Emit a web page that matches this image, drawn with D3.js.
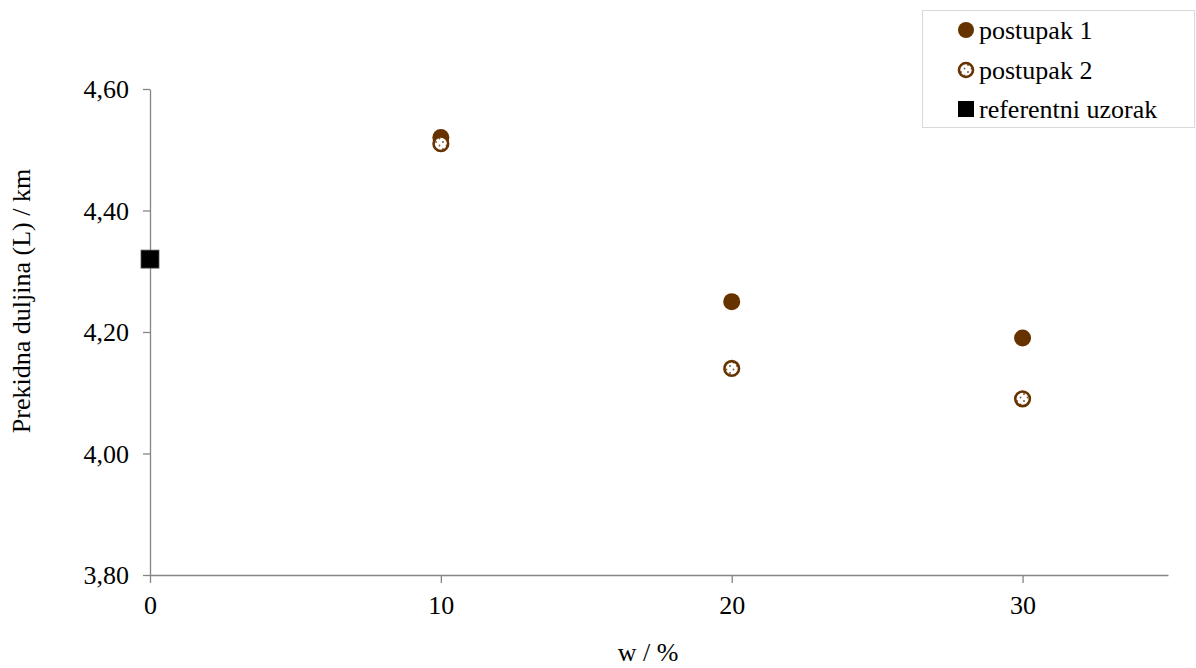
<!DOCTYPE html>
<html><head><meta charset="utf-8">
<script src="https://cdn.jsdelivr.net/npm/d3@7"></script>
<style>body{margin:0;background:#fff}svg{display:block}text{font-family:"Liberation Serif","Times New Roman",serif}</style>
</head><body><svg id="c" width="1196" height="668"></svg>
<script>
const xTicks = [0, 10, 20, 30];
const yTicks = [3.8, 4.0, 4.2, 4.4, 4.6];
const p1X = [10, 20, 30];
const p1Y = [4.52, 4.25, 4.19];
const p2X = [10, 20, 30];
const p2Y = [4.51, 4.14, 4.09];
const refX = [0];
const refY = [4.32];
const legendLabels = ["postupak 1", "postupak 2", "referentni uzorak"];

const svg = d3.select("#c");
const brown = "#663300";
const FS = "26px";
const x = d3.scaleLinear().domain([0, 35]).range([150, 1168]);
const y = d3.scaleLinear().domain([3.8, 4.6]).range([575, 89]);
const fmt = d => d.toFixed(2).replace(".", ",");

const defs = svg.append("defs");
const pat = defs.append("pattern").attr("id","dots").attr("patternUnits","userSpaceOnUse").attr("width",7).attr("height",7);
pat.append("rect").attr("width",7).attr("height",7).attr("fill","#fff");
pat.append("circle").attr("cx",2).attr("cy",2).attr("r",1).attr("fill","#8a5a3a");
pat.append("circle").attr("cx",5.5).attr("cy",5.5).attr("r",0.9).attr("fill","#8a5a3a");

const axisColor = "#858585";
const gy = svg.append("g").attr("transform","translate(150,0)")
  .call(d3.axisLeft(y).tickValues(yTicks).tickFormat(fmt).tickSize(7).tickSizeOuter(0));
const gx = svg.append("g").attr("transform","translate(0,575)")
  .call(d3.axisBottom(x).tickValues(xTicks).tickFormat(d3.format("d")).tickSize(8).tickSizeOuter(0));
[gx, gy].forEach(g => {
  g.select(".domain").attr("stroke", axisColor).attr("stroke-width",1.3);
  g.selectAll(".tick line").attr("stroke", axisColor).attr("stroke-width",1.3);
  g.selectAll(".tick text").attr("fill","#000").style("font-size",FS).style("font-family","'Liberation Serif',serif");
});
gy.selectAll(".tick text").attr("x",-21).attr("dy","0.34em");
gx.selectAll(".tick text").attr("y",21).attr("dy","0.71em");

svg.append("text").attr("transform","translate(30,301) rotate(-90)").attr("text-anchor","middle")
  .style("font-size",FS).text("Prekidna duljina (L) / km");
svg.append("text").attr("x",648).attr("y",661).attr("text-anchor","middle")
  .style("font-size",FS).text("w / %");

// markers
svg.append("g").selectAll("circle").data(p1X).join("circle")
  .attr("cx",(d)=>x(d)).attr("cy",(d,i)=>y(p1Y[i])).attr("r",8.5).attr("fill",brown);
svg.append("g").selectAll("circle").data(p2X).join("circle")
  .attr("cx",(d)=>x(d)).attr("cy",(d,i)=>y(p2Y[i])).attr("r",7.3).attr("fill","url(#dots)")
  .attr("stroke",brown).attr("stroke-width",2.6);
svg.append("g").selectAll("rect").data(refX).join("rect")
  .attr("x",d=>x(d)-9).attr("y",(d,i)=>y(refY[i])-9).attr("width",18).attr("height",18)
  .attr("fill","#000").attr("stroke","#555").attr("stroke-width",0.8);

// legend
const lg = svg.append("g");
lg.append("rect").attr("x",922.5).attr("y",10.5).attr("width",272).attr("height",117)
  .attr("fill","#fff").attr("stroke","#d9d9d9").attr("stroke-width",1);
const ly = [30, 70, 109];
legendLabels.forEach((t,i)=>{
  const cy = ly[i];
  if(i===0) lg.append("circle").attr("cx",966).attr("cy",cy).attr("r",8).attr("fill",brown);
  if(i===1) lg.append("circle").attr("cx",966).attr("cy",cy).attr("r",7).attr("fill","url(#dots)").attr("stroke",brown).attr("stroke-width",2.6);
  if(i===2) lg.append("rect").attr("x",958).attr("y",cy-8).attr("width",16).attr("height",16).attr("fill","#000");
  lg.append("text").attr("x",979).attr("y",cy).attr("dy","0.33em").style("font-size",FS).text(t);
});
</script></body></html>
